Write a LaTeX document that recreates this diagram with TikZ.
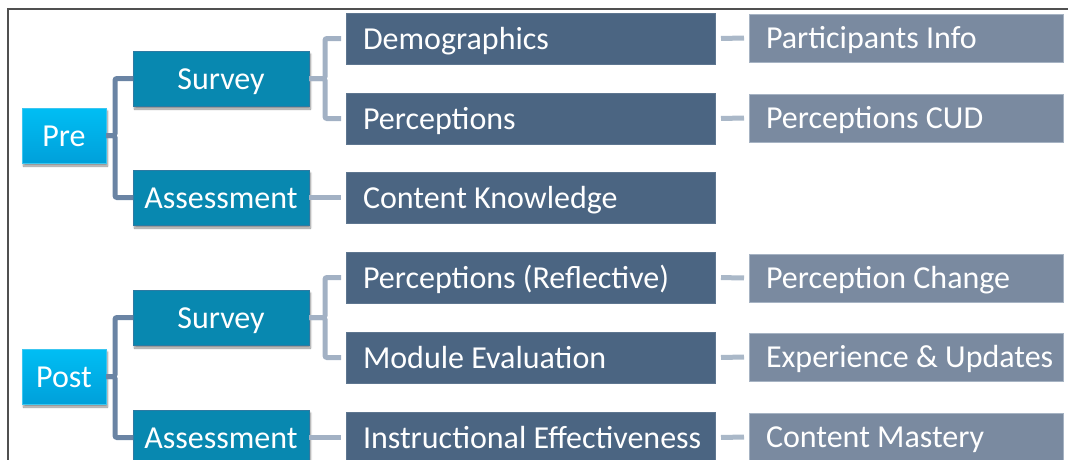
\documentclass[tikz,border=0pt]{standalone}
\usepackage{fontspec}
\setmainfont{Carlito}
\usetikzlibrary{shadows.blur}

\definecolor{lvaTop}{HTML}{00BEF4}
\definecolor{lvaBot}{HTML}{00A0DA}
\definecolor{lvaEdge}{HTML}{3CC6F0}
\definecolor{lvbFill}{HTML}{0888B0}
\definecolor{lvbEdge}{HTML}{2E7AA2}
\definecolor{lvcFill}{HTML}{4B6582}
\definecolor{lvcEdge}{HTML}{5E7690}
\definecolor{lvdFill}{HTML}{7A8AA0}
\definecolor{lvdEdge}{HTML}{A6B3C3}
\definecolor{linkA}{HTML}{6A84A4}
\definecolor{linkB}{HTML}{A2B1C4}
\definecolor{linkC}{HTML}{AAB8C8}
\definecolor{frameGray}{HTML}{505050}

\newcommand\leftbox[2]{\makebox[#1][l]{#2}}

\tikzset{
  base/.style={text=white, font=\fontsize{32}{38}\selectfont,
    text height=21.5pt, text depth=0pt, inner sep=0pt, outer sep=0pt},
  lva/.style={base, minimum width=84pt, minimum height=55pt,
    top color=lvaTop, bottom color=lvaBot, draw=lvaEdge, line width=0.6pt,
    blur shadow={shadow xshift=1.5pt, shadow yshift=-3pt, shadow opacity=45, shadow blur steps=6}},
  lvb/.style={base, minimum width=176pt, minimum height=55pt,
    fill=lvbFill, draw=lvbEdge, line width=0.6pt,
    blur shadow={shadow xshift=1.5pt, shadow yshift=-3pt, shadow opacity=45, shadow blur steps=6}},
  lvc/.style={base, minimum width=369pt, minimum height=51pt, inner xsep=17pt,
    fill=lvcFill, draw=lvcEdge, line width=0.5pt},
  lvd/.style={base, minimum width=314pt, minimum height=48pt, inner xsep=17pt,
    fill=lvdFill, draw=lvdEdge, line width=0.5pt},
  linka/.style={draw=linkA, line width=5pt, rounded corners=2pt},
  linkb/.style={draw=linkB, line width=5pt, rounded corners=2pt, shorten >=5pt},
  linkc/.style={draw=linkC, line width=5pt, shorten <=6pt, shorten >=5pt},
}

\begin{document}
\begin{tikzpicture}[x=1pt, y=-1pt]
  \useasboundingbox (0,0) rectangle (1068,459);
  % outer frame, open to the right and bottom
  \draw[frameGray, line width=1.6pt] (8,480) -- (8,9) -- (1090,9);

  % phase nodes
  \node[lva] (pre)  at (64,135.5) {Pre};
  \node[lva] (post) at (64,376.5) {Post};

  % instrument nodes
  \node[lvb] (presurv)  at (221,78.5)  {Survey};
  \node[lvb] (preass)   at (221,197.5) {Assessment};
  \node[lvb] (postsurv) at (221,317.5) {Survey};
  \node[lvb] (postass)  at (221,437.5) {Assessment};

  % measures
  \node[lvc] (demo)  at (530.5,38.5)  {\leftbox{335pt}{Demographics}};
  \node[lvc] (perc)  at (530.5,118.5) {\leftbox{335pt}{Perceptions}};
  \node[lvc] (know)  at (530.5,197.5) {\leftbox{335pt}{Content Knowledge}};
  \node[lvc] (refl)  at (530.5,277.5) {\leftbox{335pt}{Perceptions (Reflective)}};
  \node[lvc] (modev) at (530.5,357.5) {\leftbox{335pt}{Module Evaluation}};
  \node[lvc] (instr) at (530.5,437.5) {\leftbox{335pt}{Instructional Effectiveness}};

  % outcomes
  \node[lvd] (info)   at (906,38)  {\leftbox{280pt}{Participants Info}};
  \node[lvd] (cud)    at (906,118) {\leftbox{280pt}{Perceptions CUD}};
  \node[lvd] (change) at (906,278) {\leftbox{280pt}{Perception Change}};
  \node[lvd] (exper)  at (906,357) {\leftbox{280pt}{Experience \& Updates}};
  \node[lvd] (master) at (906,437) {\leftbox{280pt}{Content Mastery}};

  % phase -> instrument
  \draw[linka] (pre.east) -- ++(9,0) |- (presurv.west);
  \draw[linka] (pre.east) -- ++(9,0) |- (preass.west);
  \draw[linka] (post.east) -- ++(9,0) |- (postsurv.west);
  \draw[linka] (post.east) -- ++(9,0) |- (postass.west);

  % instrument -> measure
  \draw[linkb] (presurv.east) -- ++(16,0) |- (demo.west);
  \draw[linkb] (presurv.east) -- ++(16,0) |- (perc.west);
  \draw[linkb] (preass.east) -- (know.west);
  \draw[linkb] (postsurv.east) -- ++(16,0) |- (refl.west);
  \draw[linkb] (postsurv.east) -- ++(16,0) |- (modev.west);
  \draw[linkb] (postass.east) -- (instr.west);

  % measure -> outcome
  \draw[linkc] (demo.east) -- (info.west);
  \draw[linkc] (perc.east) -- (cud.west);
  \draw[linkc] (refl.east) -- (change.west);
  \draw[linkc] (modev.east) -- (exper.west);
  \draw[linkc] (instr.east) -- (master.west);
\end{tikzpicture}
\end{document}
